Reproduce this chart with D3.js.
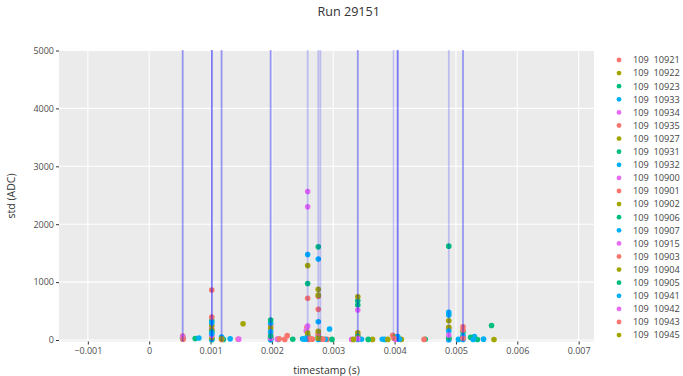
<!DOCTYPE html>
<html>
<head>
<meta charset="utf-8">
<script src="https://cdn.jsdelivr.net/npm/d3@7"></script>
<style>
  body { margin: 0; background: #fff; }
  svg { display: block; font-family: 'Open Sans', sans-serif; }
</style>
</head>
<body>
<svg id="chart" width="683" height="376"></svg>
<script>
// legend order, colours cycle every 5 entries (ggplot hue palette)
const channels = ['10921', '10922', '10923', '10933', '10934', '10935', '10927', '10931', '10932', '10900',
  '10901', '10902', '10906', '10907', '10915', '10903', '10904', '10905', '10941', '10942', '10943', '10945']
const palette = ['#F8766D', '#A3A500', '#00BF7D', '#00B0F6', '#E76BF3']

const xTicks = [-0.001, 0, 0.001, 0.002, 0.003, 0.004, 0.005, 0.006, 0.007]
const yTicks = [0, 1000, 2000, 3000, 4000, 5000]

// trigger timestamps (repeats = several triggers at the same time)
const triggerTimes = [
  0.000546, 0.000546,
  0.00102, 0.00102, 0.00102,
  0.00118, 0.00118,
  0.00198, 0.00198,
  0.002583,
  0.002756,
  0.00279,
  0.0034, 0.0034,
  0.003985,
  0.00405, 0.00405, 0.00405,
  0.004883,
  0.005115, 0.005115
]

// hits: [channel, timestamp (s), std (ADC)]
const hits = [
  // ~0.00055
  ['10921', 0.000546, 70], ['10933', 0.000546, 30], ['10922', 0.000546, 40], ['10923', 0.000546, 20],
  ['10934', 0.000546, 50], ['10935', 0.000552, 15],
  ['10931', 0.00075, 25], ['10932', 0.00081, 35],
  // ~0.00102
  ['10901', 0.00102, 862], ['10903', 0.00102, 395], ['10906', 0.00102, 330], ['10907', 0.00102, 300],
  ['10902', 0.00102, 250], ['10900', 0.00102, 200], ['10904', 0.00102, 170], ['10905', 0.00102, 140],
  ['10941', 0.00102, 110], ['10915', 0.00102, 80], ['10927', 0.00102, 40], ['10933', 0.00102, 15],
  ['10923', 0.00102, 5],
  // ~0.00118
  ['10932', 0.00118, 50], ['10945', 0.00118, 20], ['10943', 0.00118, 10], ['10931', 0.00121, 8],
  ['10907', 0.00119, 25], ['10941', 0.00132, 20], ['10935', 0.00145, 12], ['10942', 0.00146, 15],
  ['10922', 0.00153, 280],
  // ~0.00198
  ['10906', 0.00198, 345], ['10933', 0.00198, 290], ['10921', 0.00198, 240], ['10927', 0.00198, 200],
  ['10932', 0.00198, 143], ['10934', 0.00198, 100], ['10905', 0.00198, 69], ['10902', 0.00198, 40],
  ['10901', 0.00198, 20], ['10907', 0.00198, 10], ['10923', 0.00198, 5], ['10915', 0.00198, 30],
  ['10931', 0.0021, 10], ['10900', 0.00209, 15], ['10903', 0.00212, 20], ['10943', 0.00221, 10],
  ['10935', 0.00225, 75], ['10906', 0.00234, 12],
  // ~0.00258
  ['10934', 0.002583, 2565], ['10900', 0.002583, 2300], ['10941', 0.002583, 1477], ['10904', 0.002583, 1285],
  ['10905', 0.002583, 977], ['10921', 0.002583, 720], ['10915', 0.002583, 240], ['10935', 0.00257, 220],
  ['10942', 0.00256, 160], ['10901', 0.00257, 150], ['10945', 0.002583, 120], ['10922', 0.002583, 80],
  ['10933', 0.002583, 60], ['10932', 0.00257, 20], ['10923', 0.002583, 30], ['10903', 0.00262, 30],
  ['10943', 0.00266, 15], ['10907', 0.0025, 20], ['10941', 0.00253, 15], ['10921', 0.0026, 10],
  // ~0.00276
  ['10931', 0.002756, 1609], ['10907', 0.002756, 1397], ['10927', 0.002756, 874], ['10902', 0.002756, 775],
  ['10935', 0.002756, 756], ['10901', 0.002756, 529], ['10933', 0.002756, 316], ['10904', 0.002756, 150],
  ['10903', 0.002756, 110], ['10906', 0.002756, 60], ['10945', 0.002756, 30], ['10900', 0.002756, 90],
  ['10932', 0.002756, 10], ['10941', 0.00294, 190], ['10943', 0.00283, 15], ['10922', 0.0028, 20],
  ['10905', 0.00298, 10], ['10921', 0.0029, 10], ['10933', 0.00287, 12],
  // ~0.0034
  ['10927', 0.0034, 747], ['10923', 0.0034, 678], ['10931', 0.0034, 603], ['10915', 0.0034, 517],
  ['10902', 0.0034, 126], ['10935', 0.0034, 90], ['10906', 0.0034, 60], ['10942', 0.0034, 20],
  ['10907', 0.0034, 10], ['10904', 0.0034, 40], ['10934', 0.0033, 10], ['10945', 0.00333, 10],
  ['10941', 0.00346, 12], ['10905', 0.00357, 10], ['10922', 0.00364, 10], ['10932', 0.0038, 12],
  ['10933', 0.00384, 10], ['10927', 0.00389, 10],
  // ~0.004
  ['10901', 0.00397, 80], ['10902', 0.004, 50], ['10907', 0.00405, 60], ['10923', 0.00405, 20],
  ['10904', 0.00411, 10], ['10903', 0.00399, 30], ['10900', 0.00402, 15], ['10941', 0.00408, 12],
  ['10943', 0.00448, 10], ['10931', 0.0045, 12],
  // ~0.00488
  ['10906', 0.004883, 1621], ['10932', 0.004883, 477], ['10933', 0.004883, 431], ['10945', 0.004883, 333],
  ['10922', 0.004883, 219], ['10921', 0.004883, 200], ['10941', 0.004883, 155], ['10942', 0.004883, 86],
  ['10905', 0.004883, 40], ['10935', 0.004883, 10], ['10927', 0.004883, 20], ['10907', 0.004883, 5],
  ['10933', 0.00504, 10],
  // ~0.00511
  ['10901', 0.005115, 230], ['10903', 0.005115, 172], ['10923', 0.005115, 140], ['10932', 0.005115, 69],
  ['10943', 0.005115, 30], ['10941', 0.005115, 10], ['10934', 0.005115, 60],
  ['10931', 0.00524, 45], ['10907', 0.00528, 8], ['10933', 0.0053, 60], ['10906', 0.00535, 8],
  ['10932', 0.00545, 15], ['10905', 0.00558, 250], ['10902', 0.00562, 8]
]

let panel = { left: 59, right: 594, top: 50, bottom: 341.5 }
let svg = d3.select('#chart')

let x = d3.scaleLinear().domain([-0.00147, 0.00725]).range([panel.left, panel.right])
let y = d3.scaleLinear().domain([0, 5000]).range([340, 50.5])
let color = d3.scaleOrdinal().domain(channels).range(channels.map((c, i) => palette[i % 5]))

// panel background + grid
svg.append('rect')
  .attr('x', panel.left).attr('y', panel.top)
  .attr('width', panel.right - panel.left).attr('height', panel.bottom - panel.top)
  .attr('fill', '#EBEBEB')

let grid = svg.append('g')
grid.selectAll('.vgrid').data(xTicks).enter().append('line')
  .attr('x1', d => x(d)).attr('x2', d => x(d))
  .attr('y1', panel.top).attr('y2', panel.bottom)
  .attr('stroke', '#fff').attr('stroke-width', 1.1)
grid.selectAll('.hgrid').data(yTicks).enter().append('line')
  .attr('y1', d => y(d)).attr('y2', d => y(d))
  .attr('x1', panel.left).attr('x2', panel.right)
  .attr('stroke', '#fff').attr('stroke-width', 1.1)

// axes
let xAxis = d3.axisBottom(x).tickValues(xTicks).tickSize(3).tickPadding(3)
  .tickFormat(d => d === 0 ? '0' : d3.format('.3f')(d).replace('-', '\u2212'))
let gx = svg.append('g').attr('transform', 'translate(0,' + panel.bottom + ')').call(xAxis)
let yAxis = d3.axisLeft(y).tickValues(yTicks).tickSize(3).tickPadding(2).tickFormat(d3.format('d'))
let gy = svg.append('g').attr('transform', 'translate(' + panel.left + ',0)').call(yAxis)
;[gx, gy].forEach(g => {
  g.select('.domain').remove()
  g.selectAll('line').attr('stroke', '#333')
  g.selectAll('text').attr('fill', '#4D4D4D').attr('font-size', '9px').attr('font-family', 'Open Sans')
})

// points
let dots = svg.append('g')
channels.forEach(ch => {
  dots.selectAll(null)
    .data(hits.filter(h => h[0] === ch))
    .enter()
    .append('circle')
    .attr('cx', d => x(d[1]))
    .attr('cy', d => y(d[2]))
    .attr('r', 2.8)
    .attr('fill', color(ch))
})

// trigger lines on top
svg.append('g').selectAll('line')
  .data(triggerTimes)
  .enter()
  .append('line')
  .attr('x1', d => x(d)).attr('x2', d => x(d))
  .attr('y1', panel.top).attr('y2', panel.bottom)
  .attr('stroke', '#0000FF')
  .attr('stroke-opacity', 0.2)
  .attr('stroke-width', 1.8)

// titles
svg.append('text')
  .attr('x', 348.7).attr('y', 16)
  .attr('text-anchor', 'middle')
  .attr('font-size', '12.6px').attr('fill', '#333')
  .text('Run 29151')
svg.append('text')
  .attr('x', (panel.left + panel.right) / 2).attr('y', 374)
  .attr('text-anchor', 'middle')
  .attr('font-size', '10.5px').attr('fill', '#333')
  .text('timestamp (s)')
svg.append('text')
  .attr('transform', 'translate(15,196) rotate(-90)')
  .attr('text-anchor', 'middle')
  .attr('font-size', '10.5px').attr('fill', '#333')
  .text('std (ADC)')

// legend
let legend = svg.append('g').selectAll('g')
  .data(channels)
  .enter()
  .append('g')
  .attr('transform', (d, i) => 'translate(619,' + (60 + i * 13.1) + ')')
legend.append('circle').attr('r', 2.4).attr('fill', d => color(d))
legend.append('text')
  .attr('x', 14).attr('y', 3.3)
  .attr('font-size', '9.2px').attr('fill', '#444')
  .style('white-space', 'pre')
  .text(d => '109  ' + d)
</script>
</body>
</html>
